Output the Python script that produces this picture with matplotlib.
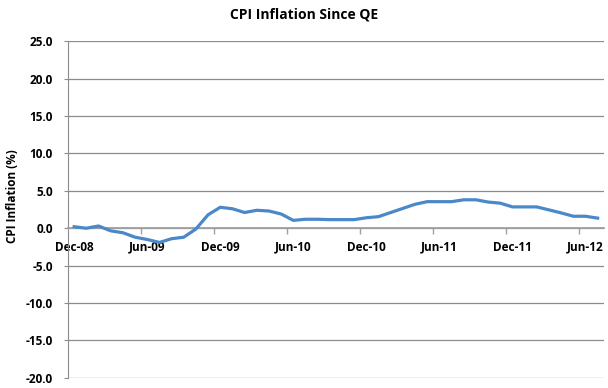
import matplotlib.pyplot as plt
import numpy as np

# monthly CPI inflation, Dec-08 .. Jul-12
months = ['Dec-08', 'Jan-09', 'Feb-09', 'Mar-09', 'Apr-09', 'May-09', 'Jun-09', 'Jul-09',
          'Aug-09', 'Sep-09', 'Oct-09', 'Nov-09', 'Dec-09', 'Jan-10', 'Feb-10', 'Mar-10',
          'Apr-10', 'May-10', 'Jun-10', 'Jul-10', 'Aug-10', 'Sep-10', 'Oct-10', 'Nov-10',
          'Dec-10', 'Jan-11', 'Feb-11', 'Mar-11', 'Apr-11', 'May-11', 'Jun-11', 'Jul-11',
          'Aug-11', 'Sep-11', 'Oct-11', 'Nov-11', 'Dec-11', 'Jan-12', 'Feb-12', 'Mar-12',
          'Apr-12', 'May-12', 'Jun-12', 'Jul-12']
cpi = [0.2, 0.0, 0.3, -0.35, -0.6, -1.2, -1.5, -1.9,
       -1.4, -1.2, -0.1, 1.8, 2.8, 2.6, 2.1, 2.4,
       2.3, 1.9, 1.05, 1.2, 1.2, 1.15, 1.15, 1.15,
       1.4, 1.55, 2.1, 2.65, 3.2, 3.55, 3.55, 3.55,
       3.8, 3.8, 3.5, 3.35, 2.85, 2.85, 2.85, 2.45,
       2.05, 1.6, 1.6, 1.35]
y_ticks = [-20, -15, -10, -5, 0, 5, 10, 15, 20, 25]

plt.rcParams['font.family'] = ['Open Sans', 'DejaVu Sans']

fig = plt.figure(figsize=(6.08, 3.88), dpi=100)
ax = fig.add_axes([0.112, 0.026, 0.881, 0.868])

x = np.arange(len(months))
ax.plot(x, cpi, color='#4a88c9', lw=2.3, solid_joinstyle='round', zorder=3)

ax.set_xlim(-0.5, len(months) - 0.5)
ax.set_ylim(-20, 25)
ax.set_yticks(y_ticks)
ax.set_yticklabels(['%.1f' % v for v in y_ticks], fontsize=8.5, fontweight='bold')
ax.yaxis.grid(True, color='#8c8c8c', lw=0.9)
ax.set_axisbelow(True)

grid_col = '#8c8c8c'
for s in ['top', 'right']:
    ax.spines[s].set_visible(False)
ax.spines['left'].set_color(grid_col)
ax.spines['bottom'].set_color('#a0a0a0')
ax.spines['bottom'].set_linewidth(1.3)
ax.spines['bottom'].set_position(('data', 0))
ax.tick_params(axis='y', length=3, color=grid_col, pad=8)

lab_pos = x[::6]
ax.set_xticks(lab_pos)
ax.set_xticklabels([months[i] for i in lab_pos], fontsize=8.5, fontweight='bold')
ax.set_xticks(np.arange(5.5, len(months) - 1, 6), minor=True)
ax.tick_params(axis='x', which='major', length=0, pad=9)
ax.tick_params(axis='x', which='minor', length=4, color='#a0a0a0', width=1)

ax.set_ylabel('CPI Inflation (%)', fontsize=8.5, fontweight='bold')
ax.yaxis.set_label_coords(-0.092, 0.54)
fig.suptitle('CPI Inflation Since QE', fontsize=10, fontweight='bold', y=0.98)

fig.savefig('out.png', dpi=100)
